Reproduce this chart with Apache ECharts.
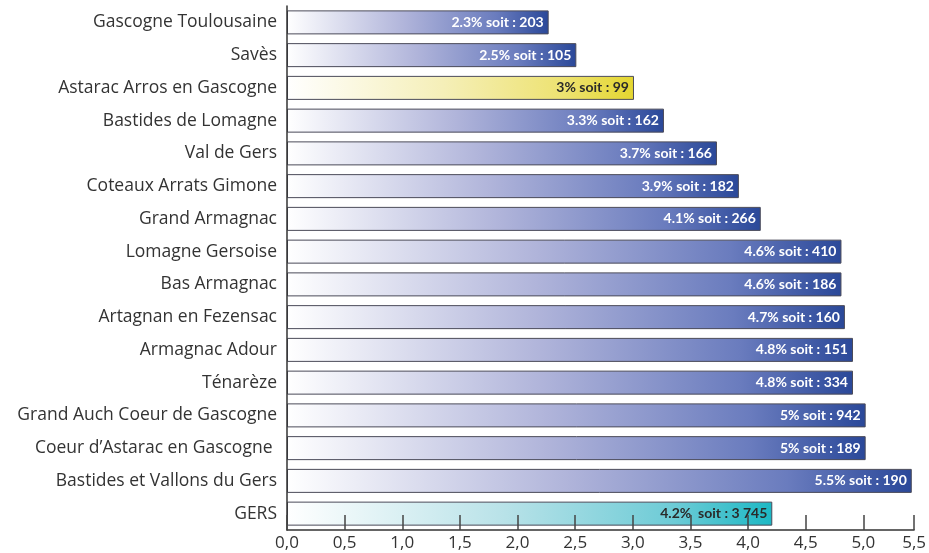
<!DOCTYPE html>
<html>
<head>
<meta charset="utf-8">
<script src="https://cdn.jsdelivr.net/npm/echarts@6/dist/echarts.min.js"></script>
<style>html,body{margin:0;padding:0;background:#fff}#c{width:929px;height:553px}</style>
</head>
<body>
<div id="c"></div>
<script>
// Categories (top to bottom)
const categories = [
  'Gascogne Toulousaine','Savès','Astarac Arros en Gascogne','Bastides de Lomagne',
  'Val de Gers','Coteaux Arrats Gimone','Grand Armagnac','Lomagne Gersoise',
  'Bas Armagnac','Artagnan en Fezensac','Armagnac Adour','Ténarèze',
  'Grand Auch Coeur de Gascogne','Coeur d\u2019Astarac en Gascogne ','Bastides et Vallons du Gers','GERS'
];
// Bar lengths as drawn in the picture
const barValues = [2.27,2.51,3.01,3.27,3.73,3.92,4.11,4.81,4.81,4.84,4.91,4.91,5.02,5.02,5.42,4.21];
// Label texts
const pctLabels = ['2.3%','2.5%','3%','3.3%','3.7%','3.9%','4.1%','4.6%','4.6%','4.7%','4.8%','4.8%','5%','5%','5.5%','4.2% '];
const countLabels = ['203','105','99','162','166','182','266','410','186','160','151','334','942','189','190','3 745'];
// Bar kind: 0 = blue, 1 = highlighted (yellow), 2 = total (teal)
const kinds = [0,0,1,0,0,0,0,0,0,0,0,0,0,0,0,2];
// X axis tick labels
const tickLabels = ['0,0','0,5','1,0','1,5','2,0','2,5','3,0','3,5','4,0','4,5','5,0','5,5'];

const grads = [
  [[0,'#ffffff'],[0.45,'#b0b4da'],[0.8,'#6a7cbe'],[1,'#2a4899']],
  [[0,'#ffffff'],[0.45,'#f5efb8'],[0.8,'#ede270'],[1,'#e4d630']],
  [[0,'#ffffff'],[0.45,'#b8e2e8'],[0.8,'#6ccbd6'],[1,'#1cb8c4']]
];
function grad(k){
  return new echarts.graphic.LinearGradient(0,0,1,0,grads[k].map(s=>({offset:s[0],color:s[1]})));
}

const chart = echarts.init(document.getElementById('c'), null, {renderer:'canvas'});
chart.setOption({
  animation:false,
  backgroundColor:'#ffffff',
  grid:{left:287,right:8,top:6,bottom:23,containLabel:false},
  xAxis:{
    type:'value', min:0, max:5.44, interval:0.5, z:10,
    axisLine:{show:true,lineStyle:{color:'#333',width:1.5}},
    axisTick:{show:true,inside:true,length:15,lineStyle:{color:'#444',width:1.5}},
    splitLine:{show:false},
    axisLabel:{color:'#333',fontSize:17,fontFamily:'"Open Sans", sans-serif',margin:5,
      formatter:(v,i)=>tickLabels[i]}
  },
  yAxis:{
    type:'category', inverse:true, data:categories, z:10,
    axisLine:{show:true,lineStyle:{color:'#333',width:1.5}},
    axisTick:{show:false},
    axisLabel:{color:'#333',fontSize:17.5,fontFamily:'"Open Sans", sans-serif',margin:10}
  },
  series:[{
    type:'bar',
    barWidth:24,
    data:barValues.map((v,i)=>({
      value:v,
      itemStyle:{color:grad(kinds[i]),borderColor:'#4a4a58',borderWidth:1},
      label:{color:kinds[i]===0?'#ffffff':'#2a2a2a'}
    })),
    label:{
      show:true, position:'insideRight', distance:5,
      fontFamily:'Lato, sans-serif', fontWeight:'bold', fontSize:14,
      formatter:p=>pctLabels[p.dataIndex]+' soit : '+countLabels[p.dataIndex]
    }
  }]
});
</script>
</body>
</html>
